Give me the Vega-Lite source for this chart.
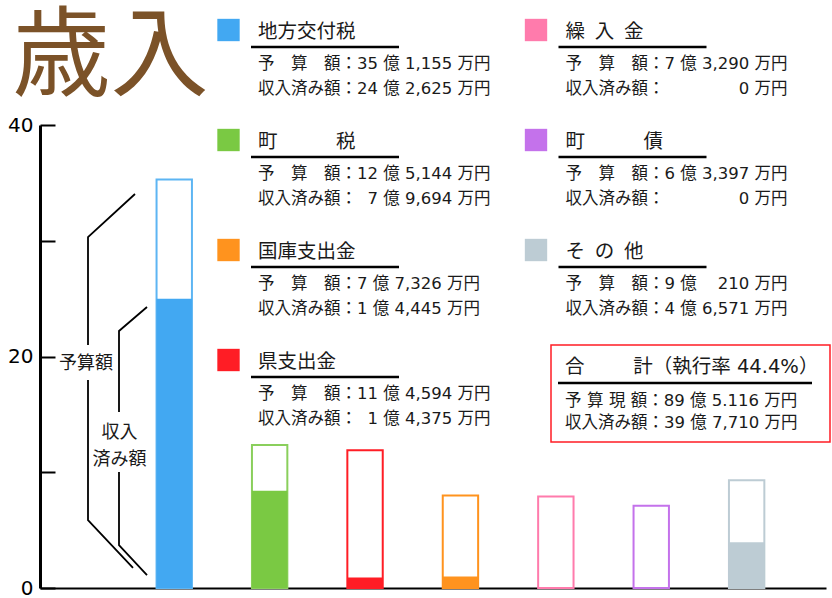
{
  "$schema": "https://vega.github.io/schema/vega-lite/v6.json",
  "width": 786,
  "height": 463,
  "autosize": {"type": "none"},
  "padding": {"left": 40, "top": 125, "right": 6, "bottom": 10},
  "background": "white",
  "config": {"view": {"stroke": null}, "font": "DejaVu Sans, Noto Sans CJK JP"},
  "datasets": {
    "bars": [
      {"item": "地方交付税", "budget": 35.3, "received": 25.0},
      {"item": "町税", "budget": 12.35, "received": 8.4},
      {"item": "県支出金", "budget": 11.9, "received": 0.9},
      {"item": "国庫支出金", "budget": 8.0, "received": 1.0},
      {"item": "繰入金", "budget": 7.9, "received": 0},
      {"item": "町債", "budget": 7.1, "received": 0},
      {"item": "その他", "budget": 9.3, "received": 3.95}
    ],
    "legend": [
      {"kind": "item", "item": "地方交付税", "title": "地方交付税", "col": 0, "row": 0, "l1": "予　算　額：35 億 1,155 万円", "l2": "収入済み額：24 億 2,625 万円"},
      {"kind": "item", "item": "町税", "title": "町　　　税", "col": 0, "row": 1, "l1": "予　算　額：12 億 5,144 万円", "l2": "収入済み額：\u20077 億 9,694 万円"},
      {"kind": "item", "item": "国庫支出金", "title": "国庫支出金", "col": 0, "row": 2, "l1": "予　算　額：7 億 7,326 万円", "l2": "収入済み額：1 億 4,445 万円"},
      {"kind": "item", "item": "県支出金", "title": "県支出金", "col": 0, "row": 3, "l1": "予　算　額：11 億 4,594 万円", "l2": "収入済み額：\u20071 億 4,375 万円"},
      {"kind": "item", "item": "繰入金", "title": "繰\u2002入\u2002金", "col": 1, "row": 0, "l1": "予　算　額：7 億 3,290 万円", "l2": "収入済み額： \u3000 \u2007\u2008\u2007\u2007\u20070 万円"},
      {"kind": "item", "item": "町債", "title": "町　　　債", "col": 1, "row": 1, "l1": "予　算　額：6 億 3,397 万円", "l2": "収入済み額： \u3000 \u2007\u2008\u2007\u2007\u20070 万円"},
      {"kind": "item", "item": "その他", "title": "そ\u2002の\u2002他", "col": 1, "row": 2, "l1": "予　算　額：9 億 \u2007\u2008210 万円", "l2": "収入済み額：4 億 6,571 万円"},
      {"kind": "total", "item": "合計", "title": "合　　\u2002計（執行率 44.4%）", "col": 1, "row": 3, "l1": "予\u2004算\u2004現\u2004額：89 億 5.116 万円", "l2": "収入済み額：39 億 7,710 万円"}
    ],
    "heading": [
      {"heading": "歳入", "col": 0, "row": 0}
    ],
    "bracket": [
      {"seg": "a", "ord": 1, "bx": 9.5, "by": 34.04},
      {"seg": "a", "ord": 2, "bx": 4.8, "by": 30.32},
      {"seg": "a", "ord": 3, "bx": 4.8, "by": 20.99},
      {"seg": "b", "ord": 1, "bx": 4.8, "by": 17.97},
      {"seg": "b", "ord": 2, "bx": 4.8, "by": 5.87},
      {"seg": "b", "ord": 3, "bx": 9.3, "by": 1.73},
      {"seg": "c", "ord": 1, "bx": 10.7, "by": 24.28},
      {"seg": "c", "ord": 2, "bx": 7.9, "by": 22.2},
      {"seg": "c", "ord": 3, "bx": 7.9, "by": 15.2},
      {"seg": "d", "ord": 1, "bx": 7.9, "by": 10.02},
      {"seg": "d", "ord": 2, "bx": 7.9, "by": 3.71},
      {"seg": "d", "ord": 3, "bx": 10.7, "by": 1.12}
    ],
    "bracketLabels": [
      {"label": "予算額", "bx": 4.6, "by": 19.35},
      {"label": "収入", "bx": 7.95, "by": 13.39},
      {"label": "済み額", "bx": 7.95, "by": 11.06}
    ]
  },
  "layer": [
    {
      "data": {"name": "bars"},
      "layer": [
        {
          "mark": {"type": "bar", "fill": "white", "strokeWidth": 2},
          "encoding": {
            "x": {"field": "item", "type": "nominal", "sort": null,
              "scale": {"domain": ["地方交付税", "町税", "県支出金", "国庫支出金", "繰入金", "町債", "その他"], "paddingInner": 0.629, "paddingOuter": 0.934, "align": 0.654},
              "axis": {"title": null, "labels": false, "ticks": false, "domainColor": "black", "domainWidth": 2}},
            "y": {"field": "budget", "type": "quantitative",
              "scale": {"domain": [0, 40], "nice": false},
              "axis": {"title": null, "values": [0, 10, 20, 30, 40], "labelExpr": "datum.value % 20 === 0 ? datum.label : ''", "grid": false, "domainColor": "black", "domainWidth": 3, "tickColor": "black", "tickWidth": 2, "tickSize": -15, "labelPadding": 22, "labelFontSize": 20, "labelColor": "black", "labelFont": "DejaVu Sans"}},
            "stroke": {"field": "item", "type": "nominal", "legend": null,
              "scale": {"domain": ["地方交付税", "町税", "県支出金", "国庫支出金", "繰入金", "町債", "その他"], "range": ["#5DB5F3", "#8ACF5C", "#FF1D25", "#FF931E", "#FF7BAC", "#C472EB", "#BDCCD4"]}}
          }
        },
        {
          "mark": {"type": "bar"},
          "encoding": {
            "x": {"field": "item", "type": "nominal", "sort": null},
            "y": {"field": "received", "type": "quantitative"},
            "fill": {"field": "item", "type": "nominal", "legend": null,
              "scale": {"domain": ["地方交付税", "町税", "県支出金", "国庫支出金", "繰入金", "町債", "その他"], "range": ["#42A8F2", "#7AC943", "#FF1D25", "#FF931E", "#FF7BAC", "#C472EB", "#BDCCD4"]}}
          }
        }
      ]
    },
    {
      "layer": [
        {
          "data": {"name": "legend"},
          "transform": [{"filter": "datum.kind === 'item'"}],
          "mark": {"type": "square", "size": 500, "opacity": 1, "yOffset": -2},
          "encoding": {
            "x": {"field": "col", "type": "quantitative", "scale": {"domain": [0, 1], "range": [188.5, 496], "zero": false, "nice": false}, "axis": null},
            "y": {"field": "row", "type": "quantitative", "scale": {"domain": [0, 3], "range": [-93, 237], "zero": false, "nice": false}, "axis": null},
            "fill": {"field": "item", "type": "nominal", "legend": null}
          }
        },
        {
          "data": {"name": "heading"},
          "mark": {"type": "text", "align": "left", "baseline": "middle", "fontSize": 98, "color": "#7B5228", "font": "Noto Sans CJK JP", "dx": -216, "dy": 27},
          "encoding": {
            "x": {"field": "col", "type": "quantitative"},
            "y": {"field": "row", "type": "quantitative"},
            "text": {"field": "heading"}
          }
        },
        {
          "data": {"name": "legend"},
          "transform": [{"filter": "datum.kind === 'total'"}],
          "mark": {"type": "rect", "filled": false, "stroke": "#FF1D25", "strokeWidth": 1.5, "xOffset": 15, "x2Offset": 294, "yOffset": -17, "y2Offset": 80},
          "encoding": {
            "x": {"field": "col", "type": "quantitative"},
            "x2": {"field": "col"},
            "y": {"field": "row", "type": "quantitative"},
            "y2": {"field": "row"}
          }
        },
        {
          "data": {"name": "legend"},
          "transform": [{"filter": "datum.kind === 'item'"}],
          "mark": {"type": "rule", "color": "black", "strokeWidth": 2.5, "xOffset": 22.5, "x2Offset": 170.5, "yOffset": 15},
          "encoding": {
            "x": {"field": "col", "type": "quantitative"},
            "x2": {"field": "col"},
            "y": {"field": "row", "type": "quantitative"}
          }
        },
        {
          "data": {"name": "legend"},
          "transform": [{"filter": "datum.kind === 'total'"}],
          "mark": {"type": "rule", "color": "black", "strokeWidth": 2.5, "xOffset": 22, "x2Offset": 276, "yOffset": 21},
          "encoding": {
            "x": {"field": "col", "type": "quantitative"},
            "x2": {"field": "col"},
            "y": {"field": "row", "type": "quantitative"}
          }
        },
        {
          "data": {"name": "legend"},
          "transform": [{"filter": "datum.kind === 'item'"}],
          "mark": {"type": "text", "align": "left", "baseline": "middle", "fontSize": 19.5, "color": "#1a1a1a", "dx": 29.5, "dy": 0},
          "encoding": {
            "x": {"field": "col", "type": "quantitative"},
            "y": {"field": "row", "type": "quantitative"},
            "text": {"field": "title"}
          }
        },
        {
          "data": {"name": "legend"},
          "transform": [{"filter": "datum.kind === 'item'"}],
          "mark": {"type": "text", "align": "left", "baseline": "middle", "fontSize": 16.5, "color": "#1a1a1a", "dx": 29.5, "dy": 32},
          "encoding": {
            "x": {"field": "col", "type": "quantitative"},
            "y": {"field": "row", "type": "quantitative"},
            "text": {"field": "l1"}
          }
        },
        {
          "data": {"name": "legend"},
          "transform": [{"filter": "datum.kind === 'item'"}],
          "mark": {"type": "text", "align": "left", "baseline": "middle", "fontSize": 16.5, "color": "#1a1a1a", "dx": 29.5, "dy": 57},
          "encoding": {
            "x": {"field": "col", "type": "quantitative"},
            "y": {"field": "row", "type": "quantitative"},
            "text": {"field": "l2"}
          }
        },
        {
          "data": {"name": "legend"},
          "transform": [{"filter": "datum.kind === 'total'"}],
          "mark": {"type": "text", "align": "left", "baseline": "middle", "fontSize": 19.5, "color": "#1a1a1a", "dx": 29, "dy": 5},
          "encoding": {
            "x": {"field": "col", "type": "quantitative"},
            "y": {"field": "row", "type": "quantitative"},
            "text": {"field": "title"}
          }
        },
        {
          "data": {"name": "legend"},
          "transform": [{"filter": "datum.kind === 'total'"}],
          "mark": {"type": "text", "align": "left", "baseline": "middle", "fontSize": 16.5, "color": "#1a1a1a", "dx": 29, "dy": 38.5},
          "encoding": {
            "x": {"field": "col", "type": "quantitative"},
            "y": {"field": "row", "type": "quantitative"},
            "text": {"field": "l1"}
          }
        },
        {
          "data": {"name": "legend"},
          "transform": [{"filter": "datum.kind === 'total'"}],
          "mark": {"type": "text", "align": "left", "baseline": "middle", "fontSize": 16.5, "color": "#1a1a1a", "dx": 29, "dy": 60.5},
          "encoding": {
            "x": {"field": "col", "type": "quantitative"},
            "y": {"field": "row", "type": "quantitative"},
            "text": {"field": "l2"}
          }
        }
      ]
    },
    {
      "layer": [
        {
          "data": {"name": "bracket"},
          "mark": {"type": "line", "color": "black", "strokeWidth": 1.8},
          "encoding": {
            "x": {"field": "bx", "type": "quantitative", "scale": {"domain": [0, 78.6], "nice": false, "zero": false}, "axis": null},
            "y": {"field": "by", "type": "quantitative", "scale": {"domain": [0, 40], "nice": false}, "axis": null},
            "detail": {"field": "seg", "type": "nominal"},
            "order": {"field": "ord", "type": "quantitative"}
          }
        },
        {
          "data": {"name": "bracketLabels"},
          "mark": {"type": "text", "fontSize": 18, "color": "#1a1a1a", "align": "center", "baseline": "middle", "font": "Noto Sans CJK JP"},
          "encoding": {
            "x": {"field": "bx", "type": "quantitative"},
            "y": {"field": "by", "type": "quantitative"},
            "text": {"field": "label"}
          }
        }
      ]
    }
  ],
  "resolve": {"scale": {"x": "independent", "y": "independent"}}
}
